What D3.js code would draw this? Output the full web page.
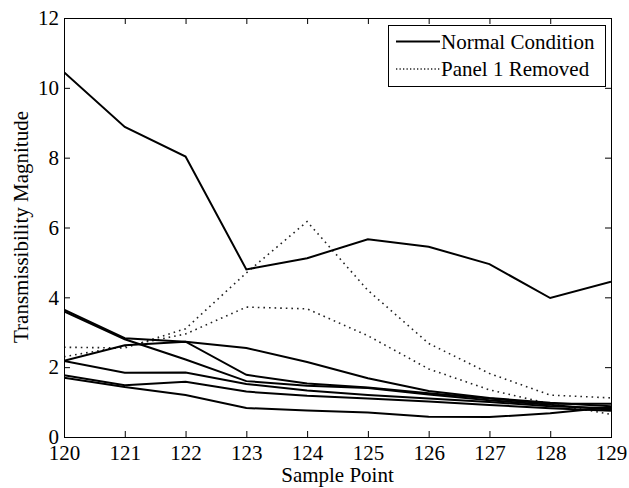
<!DOCTYPE html>
<html>
<head>
<meta charset="utf-8">
<script src="https://cdn.jsdelivr.net/npm/d3@7"></script>
</head>
<body style="margin:0; background:#fff">
<svg id="chart" width="629" height="488"></svg>
<script>
// Sample points along the x axis
const samplePoints = [120, 121, 122, 123, 124, 125, 126, 127, 128, 129];

// Transmissibility magnitudes, normal condition (one array per path)
const normal1 = [10.45, 8.88, 8.03, 4.80, 5.12, 5.66, 5.45, 4.95, 3.98, 4.45];
const normal2 = [3.65, 2.83, 2.73, 2.55, 2.15, 1.68, 1.32, 1.12, 0.98, 0.88];
const normal3 = [3.60, 2.80, 2.22, 1.60, 1.47, 1.40, 1.22, 1.05, 0.92, 0.78];
const normal4 = [2.18, 2.63, 2.73, 1.78, 1.53, 1.42, 1.25, 1.10, 0.95, 0.95];
const normal5 = [2.18, 1.84, 1.85, 1.52, 1.33, 1.20, 1.10, 1.00, 0.88, 0.82];
const normal6 = [1.77, 1.48, 1.58, 1.30, 1.18, 1.10, 1.02, 0.92, 0.82, 0.75];
const normal7 = [1.70, 1.43, 1.20, 0.83, 0.76, 0.70, 0.58, 0.57, 0.68, 0.85];

// Transmissibility magnitudes with panel 1 removed
const removed1 = [2.57, 2.55, 3.10, 4.70, 6.17, 4.20, 2.68, 1.82, 1.20, 1.12];
const removed2 = [2.30, 2.60, 2.95, 3.72, 3.67, 2.90, 1.95, 1.35, 0.95, 0.65];

const xTicks = [120, 121, 122, 123, 124, 125, 126, 127, 128, 129];
const yTicks = [0, 2, 4, 6, 8, 10, 12];

const legendLabels = ["Normal Condition", "Panel 1 Removed"];
const xLabel = "Sample Point";
const yLabel = "Transmissibility Magnitude";

const normalSeries = [normal1, normal2, normal3, normal4, normal5, normal6, normal7];
const removedSeries = [removed1, removed2];

const serif = '"Liberation Serif"';
const fontSize = "21px";
const svg = d3.select("#chart");
const box = { left: 64, right: 611, top: 18, bottom: 437 };

const x = d3.scaleLinear().domain([120, 129]).range([box.left, box.right]);
const y = d3.scaleLinear().domain([0, 12]).range([box.bottom, box.top]);

const line = d3.line()
  .x((d, i) => x(samplePoints[i]))
  .y(d => y(d));

const tickLen = 6;

// Axes: ticks pointing inward on all four sides
const axisBottom = d3.axisBottom(x).tickValues(xTicks).tickFormat(d3.format("d"))
  .tickSizeInner(-tickLen).tickSizeOuter(0).tickPadding(8);
const axisTop = d3.axisTop(x).tickValues(xTicks).tickFormat("")
  .tickSizeInner(-tickLen).tickSizeOuter(0);
const axisLeft = d3.axisLeft(y).tickValues(yTicks).tickFormat(d3.format("d"))
  .tickSizeInner(-tickLen).tickSizeOuter(0).tickPadding(5);
const axisRight = d3.axisRight(y).tickValues(yTicks).tickFormat("")
  .tickSizeInner(-tickLen).tickSizeOuter(0);

function styleAxis(g) {
  g.select(".domain").remove();
  g.selectAll(".tick line").attr("stroke", "#000").attr("stroke-width", 1);
  g.selectAll(".tick text")
    .style("font-family", serif)
    .style("font-size", fontSize)
    .attr("fill", "#000");
}

svg.append("g").attr("transform", `translate(0,${box.bottom})`).call(axisBottom).call(styleAxis);
svg.append("g").attr("transform", `translate(0,${box.top})`).call(axisTop).call(styleAxis);
svg.append("g").attr("transform", `translate(${box.left},0)`).call(axisLeft).call(styleAxis);
svg.append("g").attr("transform", `translate(${box.right},0)`).call(axisRight).call(styleAxis);

// Clip data lines to the plot box
svg.append("clipPath").attr("id", "plotClip")
  .append("rect").attr("x", box.left).attr("y", box.top)
  .attr("width", box.right - box.left).attr("height", box.bottom - box.top);

const plot = svg.append("g").attr("clip-path", "url(#plotClip)");

plot.selectAll("path.removed")
  .data(removedSeries)
  .join("path")
  .attr("class", "removed")
  .attr("d", line)
  .attr("fill", "none")
  .attr("stroke", "#222")
  .attr("stroke-width", 1.6)
  .attr("stroke-dasharray", "1.6,4");

plot.selectAll("path.normal")
  .data(normalSeries)
  .join("path")
  .attr("class", "normal")
  .attr("d", line)
  .attr("fill", "none")
  .attr("stroke", "#000")
  .attr("stroke-width", 2)
  .attr("stroke-linejoin", "miter");

// Plot frame
svg.append("rect")
  .attr("x", box.left + 0.5).attr("y", box.top + 0.5)
  .attr("width", box.right - box.left).attr("height", box.bottom - box.top)
  .attr("fill", "none").attr("stroke", "#000").attr("stroke-width", 1);

// Axis titles
svg.append("text")
  .attr("x", (box.left + box.right) / 2).attr("y", 482)
  .attr("text-anchor", "middle")
  .style("font-family", serif)
  .style("font-size", fontSize)
  .text(xLabel);

svg.append("text")
  .attr("transform", `translate(28,227) rotate(-90)`)
  .attr("text-anchor", "middle")
  .style("font-family", serif)
  .style("font-size", fontSize)
  .text(yLabel);

// Legend
const legend = svg.append("g");
legend.append("rect")
  .attr("x", 388.5).attr("y", 25.5).attr("width", 217).attr("height", 61)
  .attr("fill", "#fff").attr("stroke", "#000").attr("stroke-width", 1);

const legendStyles = [
  { stroke: "#000", width: 2, dash: null },
  { stroke: "#222", width: 1.3, dash: "1.3,2.2" }
];
legendLabels.forEach((label, i) => {
  const ly = 41.5 + i * 27.5;
  legend.append("line")
    .attr("x1", 396).attr("x2", 440).attr("y1", ly).attr("y2", ly)
    .attr("stroke", legendStyles[i].stroke)
    .attr("stroke-width", legendStyles[i].width)
    .attr("stroke-dasharray", legendStyles[i].dash);
  legend.append("text")
    .attr("x", 441).attr("y", ly + 7)
    .style("font-family", serif)
    .style("font-size", fontSize)
    .text(label);
});
</script>
</body>
</html>
